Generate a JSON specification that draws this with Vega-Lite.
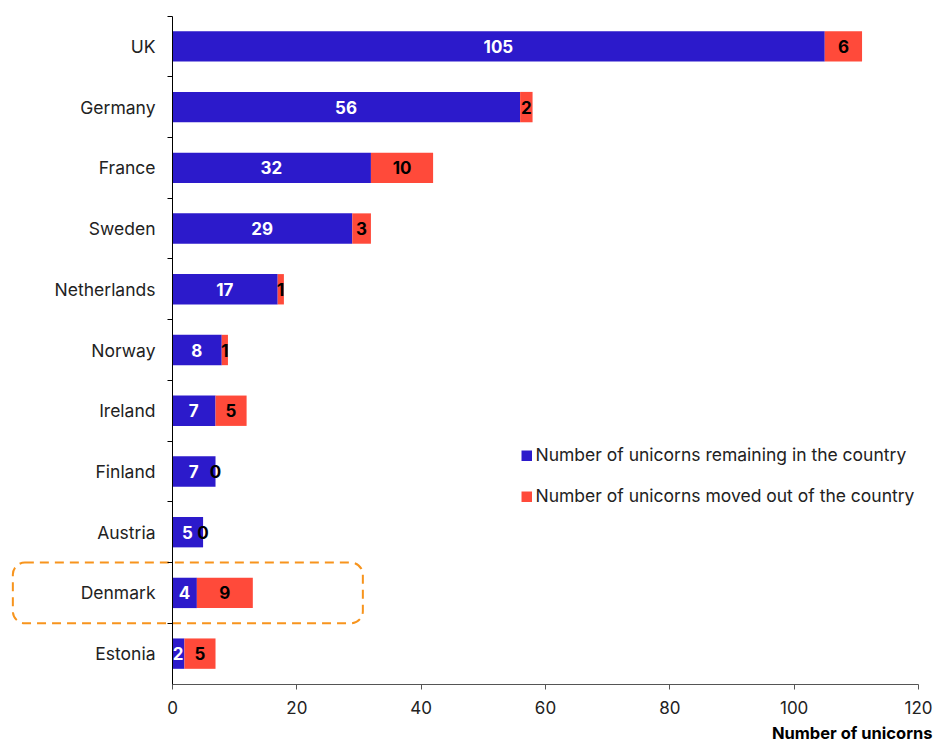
{
  "$schema": "https://vega.github.io/schema/vega-lite/v6.json",
  "autosize": {"type": "none"},
  "width": 746,
  "height": 668,
  "padding": {"left": 172, "top": 16, "right": 16, "bottom": 58},
  "background": "white",
  "config": {"font": "Inter", "view": {"stroke": null}},
  "datasets": {
    "bars": [
      {"country": "UK", "type": "Number of unicorns remaining in the country", "ord": 1, "value": 105},
      {"country": "UK", "type": "Number of unicorns moved out of the country", "ord": 2, "value": 6},
      {"country": "Germany", "type": "Number of unicorns remaining in the country", "ord": 1, "value": 56},
      {"country": "Germany", "type": "Number of unicorns moved out of the country", "ord": 2, "value": 2},
      {"country": "France", "type": "Number of unicorns remaining in the country", "ord": 1, "value": 32},
      {"country": "France", "type": "Number of unicorns moved out of the country", "ord": 2, "value": 10},
      {"country": "Sweden", "type": "Number of unicorns remaining in the country", "ord": 1, "value": 29},
      {"country": "Sweden", "type": "Number of unicorns moved out of the country", "ord": 2, "value": 3},
      {"country": "Netherlands", "type": "Number of unicorns remaining in the country", "ord": 1, "value": 17},
      {"country": "Netherlands", "type": "Number of unicorns moved out of the country", "ord": 2, "value": 1},
      {"country": "Norway", "type": "Number of unicorns remaining in the country", "ord": 1, "value": 8},
      {"country": "Norway", "type": "Number of unicorns moved out of the country", "ord": 2, "value": 1},
      {"country": "Ireland", "type": "Number of unicorns remaining in the country", "ord": 1, "value": 7},
      {"country": "Ireland", "type": "Number of unicorns moved out of the country", "ord": 2, "value": 5},
      {"country": "Finland", "type": "Number of unicorns remaining in the country", "ord": 1, "value": 7},
      {"country": "Finland", "type": "Number of unicorns moved out of the country", "ord": 2, "value": 0},
      {"country": "Austria", "type": "Number of unicorns remaining in the country", "ord": 1, "value": 5},
      {"country": "Austria", "type": "Number of unicorns moved out of the country", "ord": 2, "value": 0},
      {"country": "Denmark", "type": "Number of unicorns remaining in the country", "ord": 1, "value": 4},
      {"country": "Denmark", "type": "Number of unicorns moved out of the country", "ord": 2, "value": 9},
      {"country": "Estonia", "type": "Number of unicorns remaining in the country", "ord": 1, "value": 2},
      {"country": "Estonia", "type": "Number of unicorns moved out of the country", "ord": 2, "value": 5}
    ],
    "highlight": [
      {"country": "Denmark", "x1": -25.6, "x2": 30.7}
    ]
  },
  "layer": [
    {
      "data": {"name": "highlight"},
      "mark": {"type": "rect", "fill": null, "stroke": "#F7941D", "strokeWidth": 2, "strokeDash": [9, 6], "cornerRadius": 12, "clip": false},
      "encoding": {
        "y": {"field": "country", "type": "nominal", "sort": ["UK","Germany","France","Sweden","Netherlands","Norway","Ireland","Finland","Austria","Denmark","Estonia"]},
        "x": {"field": "x1", "type": "quantitative", "scale": {"domain": [0, 120], "nice": false, "clamp": false}},
        "x2": {"field": "x2"}
      }
    },
    {
      "data": {"name": "bars"},
      "mark": {"type": "bar", "height": {"band": 0.5}},
      "encoding": {
        "y": {
          "field": "country", "type": "nominal",
          "sort": ["UK","Germany","France","Sweden","Netherlands","Norway","Ireland","Finland","Austria","Denmark","Estonia"],
          "scale": {"paddingInner": 0, "paddingOuter": 0},
          "axis": {
            "title": null, "bandPosition": 0, "tickSize": 5, "tickColor": "#000", "domainColor": "#000",
            "labelFontSize": 17.5, "labelColor": "#222", "labelPadding": 12, "labelFont": "Inter", "labelOffset": 1.5
          }
        },
        "x": {
          "field": "value", "type": "quantitative", "stack": "zero",
          "scale": {"domain": [0, 120], "nice": false},
          "axis": {
            "title": "Number of unicorns", "values": [0, 20, 40, 60, 80, 100, 120],
            "grid": false, "tickSize": 5, "tickColor": "#555", "domainColor": "#555", "labelFlush": false,
            "labelFontSize": 17, "labelColor": "#222", "labelPadding": 11, "labelFont": "Inter",
            "titleFontSize": 16.5, "titleFontWeight": "bold", "titleColor": "#000",
            "titleAnchor": "end", "titleAlign": "right", "titleX": 760, "titleY": 54, "titleBaseline": "alphabetic"
          }
        },
        "color": {
          "field": "type", "type": "nominal",
          "scale": {
            "domain": ["Number of unicorns remaining in the country", "Number of unicorns moved out of the country"],
            "range": ["#2C1ACB", "#FF4A3A"]
          },
          "legend": {
            "title": null, "orient": "none", "legendX": 346, "legendY": 431,
            "symbolType": "square", "symbolSize": 110, "symbolStrokeWidth": 0,
            "labelFontSize": 17.5, "labelColor": "#222", "labelFont": "Inter", "rowPadding": 22, "labelOffset": 0,
            "labelLimit": 500
          }
        },
        "order": {"field": "ord", "type": "quantitative"}
      }
    },
    {
      "data": {"name": "bars"},
      "transform": [
        {"stack": "value", "groupby": ["country"], "sort": [{"field": "ord"}], "as": ["s0", "s1"]},
        {"calculate": "(datum.s0 + datum.s1) / 2", "as": "mid"}
      ],
      "mark": {"type": "text", "fontSize": 17, "fontWeight": "bold", "font": "Inter", "align": "center", "baseline": "middle", "dy": 1.5},
      "encoding": {
        "y": {"field": "country", "type": "nominal", "sort": ["UK","Germany","France","Sweden","Netherlands","Norway","Ireland","Finland","Austria","Denmark","Estonia"]},
        "x": {"field": "mid", "type": "quantitative", "scale": {"domain": [0, 120], "nice": false}},
        "text": {"field": "value", "type": "quantitative"},
        "color": {
          "condition": {"test": "datum.ord == 1", "value": "#ffffff"},
          "value": "#000000"
        }
      }
    }
  ]
}
